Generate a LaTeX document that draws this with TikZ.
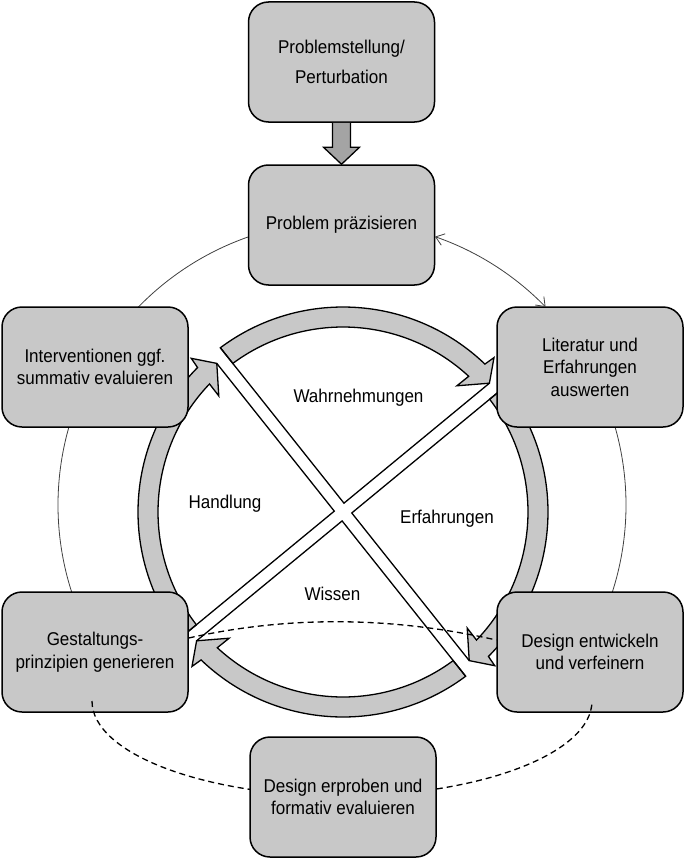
\documentclass[tikz,border=0pt]{standalone}
\usepackage{fontspec}
\newfontfamily\boxfont[FakeStretch=0.92]{Liberation Sans}
\usetikzlibrary{arrows.meta,calc}
\definecolor{boxgray}{HTML}{C8C8C8}
\definecolor{arrgray}{HTML}{A4A4A4}
\definecolor{thingray}{HTML}{404040}
% #1 tail strip axis angle, #2 tip angle (pixel convention, clockwise)
\newcommand\ringarrow[2]{%
  \draw[ringarc] ($(C)+({#1+1.75}:205)$) arc[start angle={#1+1.75}, end angle={#2-4.85}, radius=205]
    -- ($(C)+({#2-4.3}:216)$) -- ($(C)+(#2:195)$) -- ($(C)+({#2-6.6}:170)$)
    -- ($(C)+({#2-5.85}:185)$) arc[start angle={#2-5.85}, end angle={#1+1.94}, radius=185] -- cycle;}
\begin{document}
\begin{tikzpicture}[x=1pt,y=-1pt,
  stage/.style={draw=black, line width=1.5pt, fill=boxgray, rounded corners=20pt,
     minimum width=186pt, minimum height=120pt, align=center, inner sep=2pt,
     font=\boxfont\fontsize{18.5}{22.5}\selectfont},
  ringarc/.style={draw=black, line width=1.3pt, fill=boxgray, line join=miter},
  xline/.style={draw=black, line width=1.3pt},
  thinarc/.style={draw=thingray, line width=0.8pt},
  dashline/.style={draw=black, line width=1.3pt, dash pattern=on 6pt off 4pt},
  lbl/.style={font=\boxfont\fontsize{18.5}{22.5}\selectfont, inner sep=0pt, anchor=base}
]
\useasboundingbox (0,0) rectangle (685,859);
\coordinate (C) at (343,512);
\coordinate (O) at (342,505);

% thin outer circle segments
\draw[thinarc] (O) ++(260:284) arc[start angle=260, end angle=220, radius=284];
\draw[thinarc] (O) ++(200:284) arc[start angle=200, end angle=160, radius=284];
\draw[thinarc] (O) ++(340:284) arc[start angle=340, end angle=380, radius=284];

% ring of four curved arrows
\ringarrow{231.5}{318.66}
\ringarrow{320.5}{409.66}
\ringarrow{51.5}{138.66}
\ringarrow{140.5}{229.66}

% the X
\coordinate (a1u) at ($(C)+(233.25:205)$);
\coordinate (a1d) at ($(C)+(409.66:195)$);
\coordinate (a2u) at ($(C)+(229.66:195)$);
\coordinate (a2d) at ($(C)+(53.25:205)$);
\coordinate (b1u) at ($(C)+(322.25:205)$);
\coordinate (b1d) at ($(C)+(138.66:195)$);
\coordinate (b2u) at ($(C)+(318.66:195)$);
\coordinate (b2d) at ($(C)+(142.25:205)$);
\coordinate (vt) at (intersection of a1u--a1d and b2u--b2d);
\coordinate (vr) at (intersection of a1u--a1d and b1u--b1d);
\coordinate (vb) at (intersection of a2u--a2d and b1u--b1d);
\coordinate (vl) at (intersection of a2u--a2d and b2u--b2d);
\draw[xline] (a1u) -- (vt) -- (b2u);
\draw[xline] (b1u) -- (vr) -- (a1d);
\draw[xline] (a2d) -- (vb) -- (b1d);
\draw[xline] (b2d) -- (vl) -- (a2u);

% labels inside ring
\node[lbl] (lw) at (358.5,402) {Wahrnehmungen};
\node[lbl] (lh) at (225,508) {Handlung};
\node[lbl] (le) at (447,523) {Erfahrungen};
\node[lbl] (lwi) at (332.5,600) {Wissen};

% boxes
\node[stage, font=\boxfont\fontsize{18.5}{30}\selectfont] (b1) at (341.5,62) {Problemstellung/\\Perturbation};
\node[stage] (b2) at (341.5,225) {Problem präzisieren};
\node[stage] (b3) at (590,367) {Literatur und\\Erfahrungen\\auswerten};
\node[stage] (b4) at (590,652) {Design entwickeln\\und verfeinern};
\node[stage] (b6) at (95,652) {Gestaltungs-\\prinzipien generieren};
\node[stage] (b7) at (95,367) {Interventionen ggf.\\summativ evaluieren};

% dashed connections
\draw[dashline] ($(b6.east)+(0,-14)$) .. controls (291,615) and (394,617) .. ($(b4.west)+(0,-12)$);
\draw[dashline] (342,701) ++(180:250 and 95) arc[start angle=180, end angle=0, x radius=250, y radius=95];

\node[stage] (b5) at (343,797) {Design erproben und\\formativ evaluieren};

% block arrow from b1 to b2
\draw[fill=arrgray, line width=1.3pt, line join=miter]
  ($(b1.south)+(-9,0)$) -- ($(b2.north)+(-9,-17)$) -- ($(b2.north)+(-18,-17)$) -- (b2.north)
  -- ($(b2.north)+(18,-17)$) -- ($(b2.north)+(9,-17)$) -- ($(b1.south)+(9,0)$);

% double thin arrow b2 <-> b3
\draw[thinarc, {Straight Barb[length=8pt,width=12pt]}-{Straight Barb[length=8pt,width=12pt]}]
  (O) ++(289.12:284) arc[start angle=289.12, end angle=315.8, radius=284];
\end{tikzpicture}
\end{document}
